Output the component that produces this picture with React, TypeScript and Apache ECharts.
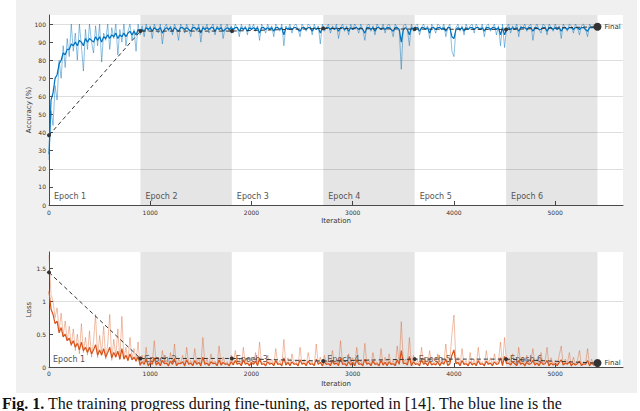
import React, { useEffect, useRef } from "react";
import * as echarts from "echarts";

// ---------- data ----------
const ITER_STEP = 20; // training samples are read every 20 iterations
const X_TICKS = [0, 1000, 2000, 3000, 4000, 5000];
const ACC_TICKS = [0, 10, 20, 30, 40, 50, 60, 70, 80, 90, 100];
const LOSS_TICKS = [0, 0.5, 1, 1.5];
const EPOCH_BOUNDS = [0, 903, 1806, 2709, 3612, 4515, 5418];
const EPOCH_LABELS = ["Epoch 1", "Epoch 2", "Epoch 3", "Epoch 4", "Epoch 5", "Epoch 6"];

const accRaw = [
  25, 52, 44, 66, 58, 80, 70, 88, 76, 92,
  82, 100, 85, 95, 80, 100, 88, 74, 97, 86,
  100, 90, 84, 99, 88, 100, 79, 95, 91, 100,
  86, 98, 92, 100, 83, 97, 90, 100, 88, 96,
  100, 91, 97, 85, 100, 94, 99, 93, 100, 96,
  99, 92, 100, 97, 95, 100, 89, 98, 100, 96,
  99, 94, 100, 97, 91, 100, 98, 95, 100, 97,
  93, 100, 98, 96, 100, 90, 99, 97, 100, 95,
  98, 100, 94, 99, 97, 100, 92, 98, 100, 96,
  99, 95, 100, 98, 93, 100, 97, 99, 94, 100,
  97, 100, 96, 99, 91, 100, 98, 95, 100, 97,
  99, 93, 100, 98, 96, 100, 88, 99, 97, 100,
  95, 99, 100, 97, 93, 100, 98, 96, 100, 99,
  94, 100, 97, 99, 89, 100, 96, 98, 100, 95,
  99, 97, 100, 92, 98, 100, 96, 99, 94, 100,
  97, 100, 98, 95, 100, 97, 91, 99, 100, 96,
  99, 94, 100, 98, 97, 100, 95, 99, 100, 97,
  93, 100, 98, 96, 75, 99, 100, 97, 88, 100,
  96, 99, 100, 94, 98, 100, 97, 99, 92, 100,
  98, 95, 100, 99, 97, 100, 93, 98, 100, 85,
  82, 98, 100, 96, 99, 94, 100, 97, 99, 100,
  95, 100, 98, 97, 100, 93, 99, 100, 96, 98,
  100, 94, 99, 88, 100, 87, 98, 100, 95, 99,
  97, 100, 93, 99, 98, 100, 96, 99, 100, 91,
  98, 100, 97, 95, 100, 99, 94, 100, 98, 96,
  100, 97, 99, 92, 100, 98, 96, 100, 99, 95,
  100, 98, 94, 99, 100, 97, 93, 100, 98, 99,
  100,
];
const accSmooth = [
  28, 58, 62, 70, 72, 78, 80, 84, 83, 86,
  86, 89, 88, 90, 88, 91, 90, 88, 92, 90,
  92, 91, 90, 93, 91, 93, 90, 93, 92, 94,
  92, 94, 93, 95, 92, 94, 93, 95, 93, 95,
  96, 94, 96, 94, 97, 96, 97, 96, 98, 97,
  98, 96, 98, 97, 97, 98, 95, 97, 98, 97,
  98, 96, 98, 97, 96, 98, 98, 97, 98, 97,
  96, 98, 98, 97, 98, 95, 98, 97, 98, 97,
  98, 98, 96, 98, 97, 98, 96, 97, 98, 97,
  98, 97, 98, 98, 96, 98, 97, 98, 96, 98,
  97, 98, 97, 98, 95, 98, 98, 97, 98, 97,
  98, 96, 98, 98, 97, 98, 94, 98, 97, 98,
  97, 98, 98, 97, 96, 98, 98, 97, 98, 98,
  96, 98, 97, 98, 95, 98, 97, 98, 98, 97,
  98, 97, 98, 96, 98, 98, 97, 98, 96, 98,
  97, 98, 98, 97, 98, 97, 95, 98, 98, 97,
  98, 96, 98, 98, 97, 98, 97, 98, 98, 97,
  96, 98, 98, 97, 90, 97, 98, 97, 94, 98,
  97, 98, 98, 96, 98, 98, 97, 98, 95, 98,
  98, 97, 98, 98, 97, 98, 96, 98, 98, 93,
  92, 97, 98, 97, 98, 96, 98, 97, 98, 98,
  97, 98, 98, 97, 98, 96, 98, 98, 97, 98,
  98, 97, 98, 94, 98, 94, 97, 98, 97, 98,
  97, 98, 96, 98, 98, 98, 97, 98, 98, 96,
  98, 98, 97, 97, 98, 98, 96, 98, 98, 97,
  98, 97, 98, 96, 98, 98, 97, 98, 98, 97,
  98, 98, 97, 98, 98, 97, 96, 98, 98, 98,
  98,
];
const lossRaw = [
  1.70, 1.10, 1.00, 0.75, 0.90, 0.55, 0.82, 0.48, 0.70, 0.40,
  0.62, 0.32, 0.58, 0.25, 0.50, 0.20, 0.66, 0.22, 0.45, 0.18,
  0.55, 0.15, 0.40, 0.80, 0.14, 0.48, 0.20, 0.62, 0.12, 0.35,
  0.80, 0.10, 0.42, 0.16, 0.58, 0.11, 0.77, 0.13, 0.30, 0.09,
  0.45, 0.12, 0.28, 0.08, 0.38, 0.02, 0.18, 0.04, 0.30, 0.01,
  0.12, 0.05, 0.40, 0.03, 0.15, 0.02, 0.25, 0.06, 0.10, 0.01,
  0.22, 0.04, 0.35, 0.02, 0.12, 0.06, 0.18, 0.01, 0.30, 0.04,
  0.10, 0.02, 0.28, 0.05, 0.14, 0.01, 0.45, 0.04, 0.12, 0.02,
  0.20, 0.06, 0.09, 0.02, 0.32, 0.03, 0.15, 0.05, 0.08, 0.01,
  0.18, 0.03, 0.25, 0.05, 0.12, 0.02, 0.30, 0.04, 0.10, 0.01,
  0.15, 0.05, 0.22, 0.02, 0.38, 0.04, 0.09, 0.01, 0.18, 0.05,
  0.12, 0.02, 0.28, 0.04, 0.10, 0.01, 0.42, 0.03, 0.14, 0.02,
  0.20, 0.05, 0.09, 0.01, 0.30, 0.04, 0.12, 0.02, 0.22, 0.05,
  0.08, 0.02, 0.35, 0.04, 0.15, 0.01, 0.18, 0.05, 0.10, 0.02,
  0.25, 0.04, 0.12, 0.02, 0.40, 0.05, 0.09, 0.01, 0.20, 0.03,
  0.14, 0.02, 0.30, 0.05, 0.10, 0.01, 0.36, 0.04, 0.12, 0.02,
  0.22, 0.05, 0.08, 0.01, 0.28, 0.03, 0.15, 0.02, 0.20, 0.04,
  0.10, 0.02, 0.32, 0.05, 0.69, 0.06, 0.12, 0.03, 0.45, 0.02,
  0.18, 0.04, 0.10, 0.01, 0.30, 0.05, 0.12, 0.02, 0.25, 0.03,
  0.08, 0.04, 0.20, 0.01, 0.14, 0.05, 0.35, 0.02, 0.10, 0.50,
  0.79, 0.06, 0.15, 0.02, 0.28, 0.04, 0.10, 0.01, 0.22, 0.03,
  0.12, 0.02, 0.30, 0.05, 0.08, 0.01, 0.25, 0.04, 0.14, 0.02,
  0.20, 0.05, 0.10, 0.38, 0.02, 0.45, 0.06, 0.12, 0.03, 0.20,
  0.08, 0.02, 0.30, 0.04, 0.15, 0.01, 0.18, 0.05, 0.10, 0.28,
  0.04, 0.12, 0.02, 0.22, 0.05, 0.09, 0.30, 0.01, 0.14, 0.04,
  0.10, 0.02, 0.18, 0.32, 0.03, 0.12, 0.05, 0.22, 0.01, 0.15,
  0.04, 0.10, 0.25, 0.02, 0.08, 0.05, 0.28, 0.01, 0.12, 0.03,
  0.05,
];
const lossSmooth = [
  1.15, 0.88, 0.80, 0.66, 0.70, 0.52, 0.60, 0.46, 0.50, 0.40,
  0.44, 0.34, 0.40, 0.30, 0.36, 0.26, 0.38, 0.25, 0.30, 0.22,
  0.30, 0.20, 0.26, 0.34, 0.18, 0.26, 0.18, 0.28, 0.15, 0.22,
  0.30, 0.14, 0.22, 0.15, 0.24, 0.12, 0.28, 0.12, 0.18, 0.10,
  0.20, 0.11, 0.15, 0.09, 0.16, 0.03, 0.08, 0.04, 0.12, 0.02,
  0.06, 0.04, 0.14, 0.03, 0.07, 0.02, 0.10, 0.05, 0.06, 0.02,
  0.09, 0.04, 0.12, 0.02, 0.06, 0.05, 0.08, 0.02, 0.11, 0.04,
  0.06, 0.02, 0.10, 0.04, 0.07, 0.02, 0.15, 0.04, 0.06, 0.02,
  0.08, 0.05, 0.06, 0.02, 0.11, 0.03, 0.07, 0.04, 0.05, 0.02,
  0.08, 0.03, 0.10, 0.04, 0.06, 0.02, 0.11, 0.04, 0.06, 0.02,
  0.07, 0.04, 0.09, 0.02, 0.13, 0.04, 0.05, 0.02, 0.08, 0.04,
  0.06, 0.02, 0.10, 0.04, 0.05, 0.02, 0.14, 0.03, 0.07, 0.02,
  0.08, 0.04, 0.05, 0.02, 0.11, 0.04, 0.06, 0.02, 0.09, 0.04,
  0.05, 0.02, 0.12, 0.04, 0.07, 0.02, 0.08, 0.04, 0.05, 0.02,
  0.10, 0.04, 0.06, 0.02, 0.13, 0.04, 0.05, 0.02, 0.08, 0.03,
  0.07, 0.02, 0.11, 0.04, 0.05, 0.02, 0.12, 0.04, 0.06, 0.02,
  0.09, 0.04, 0.05, 0.02, 0.10, 0.03, 0.07, 0.02, 0.08, 0.04,
  0.05, 0.02, 0.11, 0.04, 0.25, 0.05, 0.06, 0.03, 0.16, 0.02,
  0.08, 0.04, 0.05, 0.02, 0.11, 0.04, 0.06, 0.02, 0.09, 0.03,
  0.05, 0.03, 0.08, 0.02, 0.07, 0.04, 0.12, 0.02, 0.05, 0.18,
  0.26, 0.05, 0.07, 0.02, 0.10, 0.04, 0.05, 0.02, 0.08, 0.03,
  0.06, 0.02, 0.10, 0.04, 0.05, 0.02, 0.09, 0.04, 0.06, 0.02,
  0.08, 0.04, 0.05, 0.14, 0.02, 0.16, 0.05, 0.06, 0.03, 0.08,
  0.05, 0.02, 0.10, 0.04, 0.06, 0.02, 0.07, 0.04, 0.05, 0.10,
  0.03, 0.06, 0.02, 0.08, 0.04, 0.05, 0.10, 0.02, 0.06, 0.03,
  0.05, 0.02, 0.07, 0.11, 0.03, 0.06, 0.04, 0.08, 0.02, 0.06,
  0.03, 0.05, 0.09, 0.02, 0.05, 0.04, 0.10, 0.02, 0.06, 0.03,
  0.04,
];
// validation (one point per epoch boundary, the last one is "Final")
const accVal = [38.5, 96.1, 96.1, 97.6, 97.2, 97.0, 98.5];
const lossVal = [1.44, 0.13, 0.13, 0.09, 0.12, 0.12, 0.06];

const CAPTION_BOLD = "Fig. 1.";
const CAPTION_TEXT =
  " The training progress during fine-tuning, as reported in [14]. The blue line is the";

// ---------- helpers ----------
const pairs = (vals: number[]) => vals.map((v, i) => [i * ITER_STEP, v]);
const valPairs = (vals: number[]) => vals.map((v, i) => [EPOCH_BOUNDS[i], v]);

const FONT = "DejaVu Sans";
const AX = "#4a4a4a";
const TXT = "#333333";

function epochAreas(labelDist: number) {
  return EPOCH_LABELS.map((name, i) => [
    {
      xAxis: EPOCH_BOUNDS[i],
      itemStyle: { color: i % 2 === 1 ? "rgba(0,0,0,0.1)" : "rgba(0,0,0,0)" },
      label: {
        show: true,
        formatter: name,
        position: "insideBottomLeft",
        distance: labelDist,
        fontSize: 8,
        fontFamily: FONT,
        color: "#555",
      },
    },
    { xAxis: EPOCH_BOUNDS[i + 1] },
  ]);
}

function xAxisCfg(gridIndex: number, labelMargin: number, nameGap: number) {
  return {
    type: "value",
    gridIndex,
    min: 0,
    max: 5670,
    interval: 1000,
    axisLine: { show: true, onZero: false, lineStyle: { color: AX, width: 1 } },
    axisTick: { show: true, inside: true, length: 4, customValues: X_TICKS, lineStyle: { color: AX } },
    axisLabel: {
      customValues: X_TICKS,
      formatter: (v: number) => String(v),
      fontSize: 6,
      fontFamily: FONT,
      color: TXT,
      margin: labelMargin,
    },
    splitLine: { show: false },
    name: "Iteration",
    nameLocation: "middle",
    nameGap,
    nameMoveOverlap: false,
    nameTextStyle: { fontSize: 7, fontFamily: FONT, color: TXT },
  };
}

function yAxisCfg(
  gridIndex: number,
  max: number,
  interval: number,
  ticks: number[],
  name: string,
  nameGap: number
) {
  return {
    type: "value",
    gridIndex,
    min: 0,
    max,
    interval,
    axisLine: { show: true, lineStyle: { color: AX, width: 1 } },
    axisTick: { show: true, inside: true, length: 4, customValues: ticks, lineStyle: { color: AX } },
    axisLabel: {
      customValues: ticks,
      formatter: (v: number) => String(v),
      fontSize: 6,
      fontFamily: FONT,
      color: TXT,
      margin: 3,
    },
    splitLine: {
      show: true,
      lineStyle: { color: ["#dedede", "rgba(0,0,0,0)"], width: 1 },
    },
    name,
    nameLocation: "middle",
    nameGap,
    nameRotate: 90,
    nameMoveOverlap: false,
    nameTextStyle: { fontSize: 7, fontFamily: FONT, color: TXT },
  };
}

export default function App() {
  const ref = useRef<HTMLDivElement>(null);

  useEffect(() => {
    document.body.style.margin = "0";
    const chart = echarts.init(ref.current!, undefined, { renderer: "svg" });

    const valSeries = (xi: number, vals: number[], areaDist: number) => ({
      type: "line",
      xAxisIndex: xi,
      yAxisIndex: xi,
      data: valPairs(vals).slice(0, vals.length - 1),
      symbol: "circle",
      symbolSize: 4,
      itemStyle: { color: "#333" },
      lineStyle: { color: "#333", width: 1, type: [4, 3] },
      z: 5,
      markArea: { silent: true, z: 1, data: epochAreas(areaDist) },
    });
    const finalSeries = (xi: number, vals: number[]) => ({
      type: "line",
      xAxisIndex: xi,
      yAxisIndex: xi,
      data: valPairs(vals).slice(vals.length - 2),
      symbol: "circle",
      symbolSize: (_v: any, p: any) => (p.dataIndex === 1 ? 8 : 0),
      showSymbol: true,
      itemStyle: { color: "#333" },
      lineStyle: { color: "#333", width: 1, type: [4, 3] },
      z: 6,
      label: {
        show: true,
        position: "right",
        distance: 3,
        formatter: (p: any) => (p.dataIndex === 1 ? "Final" : ""),
        fontSize: 7,
        fontFamily: FONT,
        color: TXT,
      },
    });

    chart.setOption({
      animation: false,
      backgroundColor: "transparent",
      graphic: [
        {
          type: "text",
          x: 2,
          y: 395,
          style: {
            text: "{b|" + CAPTION_BOLD + "}" + CAPTION_TEXT,
            fontFamily: "Liberation Serif",
            fontSize: 16,
            fill: "#111",
            verticalAlign: "top",
            rich: { b: { fontWeight: "bold", fontSize: 16, fontFamily: "Liberation Serif" } },
          },
        },
      ],
      grid: [
        { left: 49, top: 15, width: 574, height: 190, show: true, backgroundColor: "#ffffff", borderWidth: 0 },
        { left: 49, top: 252, width: 574, height: 115, show: true, backgroundColor: "#ffffff", borderWidth: 0 },
      ],
      xAxis: [xAxisCfg(0, 4, 12), xAxisCfg(1, 3, 13)],
      yAxis: [
        yAxisCfg(0, 105, 5, ACC_TICKS, "Accuracy (%)", 17),
        yAxisCfg(1, 1.75, 0.25, LOSS_TICKS, "Loss", 17),
      ],
      series: [
        {
          type: "line",
          xAxisIndex: 0,
          yAxisIndex: 0,
          data: pairs(accRaw),
          symbol: "none",
          lineStyle: { color: "rgba(0,114,189,0.45)", width: 1 },
          z: 2,
        },
        {
          type: "line",
          xAxisIndex: 0,
          yAxisIndex: 0,
          data: pairs(accSmooth),
          symbol: "none",
          lineStyle: { color: "#0072BD", width: 1.2 },
          z: 3,
        },
        valSeries(0, accVal, 5),
        finalSeries(0, accVal),
        {
          type: "line",
          xAxisIndex: 1,
          yAxisIndex: 1,
          data: pairs(lossRaw),
          symbol: "none",
          lineStyle: { color: "rgba(217,83,25,0.38)", width: 1 },
          z: 2,
        },
        {
          type: "line",
          xAxisIndex: 1,
          yAxisIndex: 1,
          data: pairs(lossSmooth),
          symbol: "none",
          lineStyle: { color: "#D95319", width: 1.2 },
          z: 3,
        },
        valSeries(1, lossVal, 4),
        finalSeries(1, lossVal),
      ],
    });

    return () => chart.dispose();
  }, []);

  return (
    <div style={{ position: "absolute", left: 0, top: 0, width: 640, height: 411, background: "#ffffff", overflow: "hidden" }}>
      <div style={{ position: "absolute", left: 16, top: 0, width: 621, height: 393, background: "#f0f0f0" }} />
      <div ref={ref} style={{ position: "absolute", left: 0, top: 0, width: 640, height: 411 }} />
    </div>
  );
}
